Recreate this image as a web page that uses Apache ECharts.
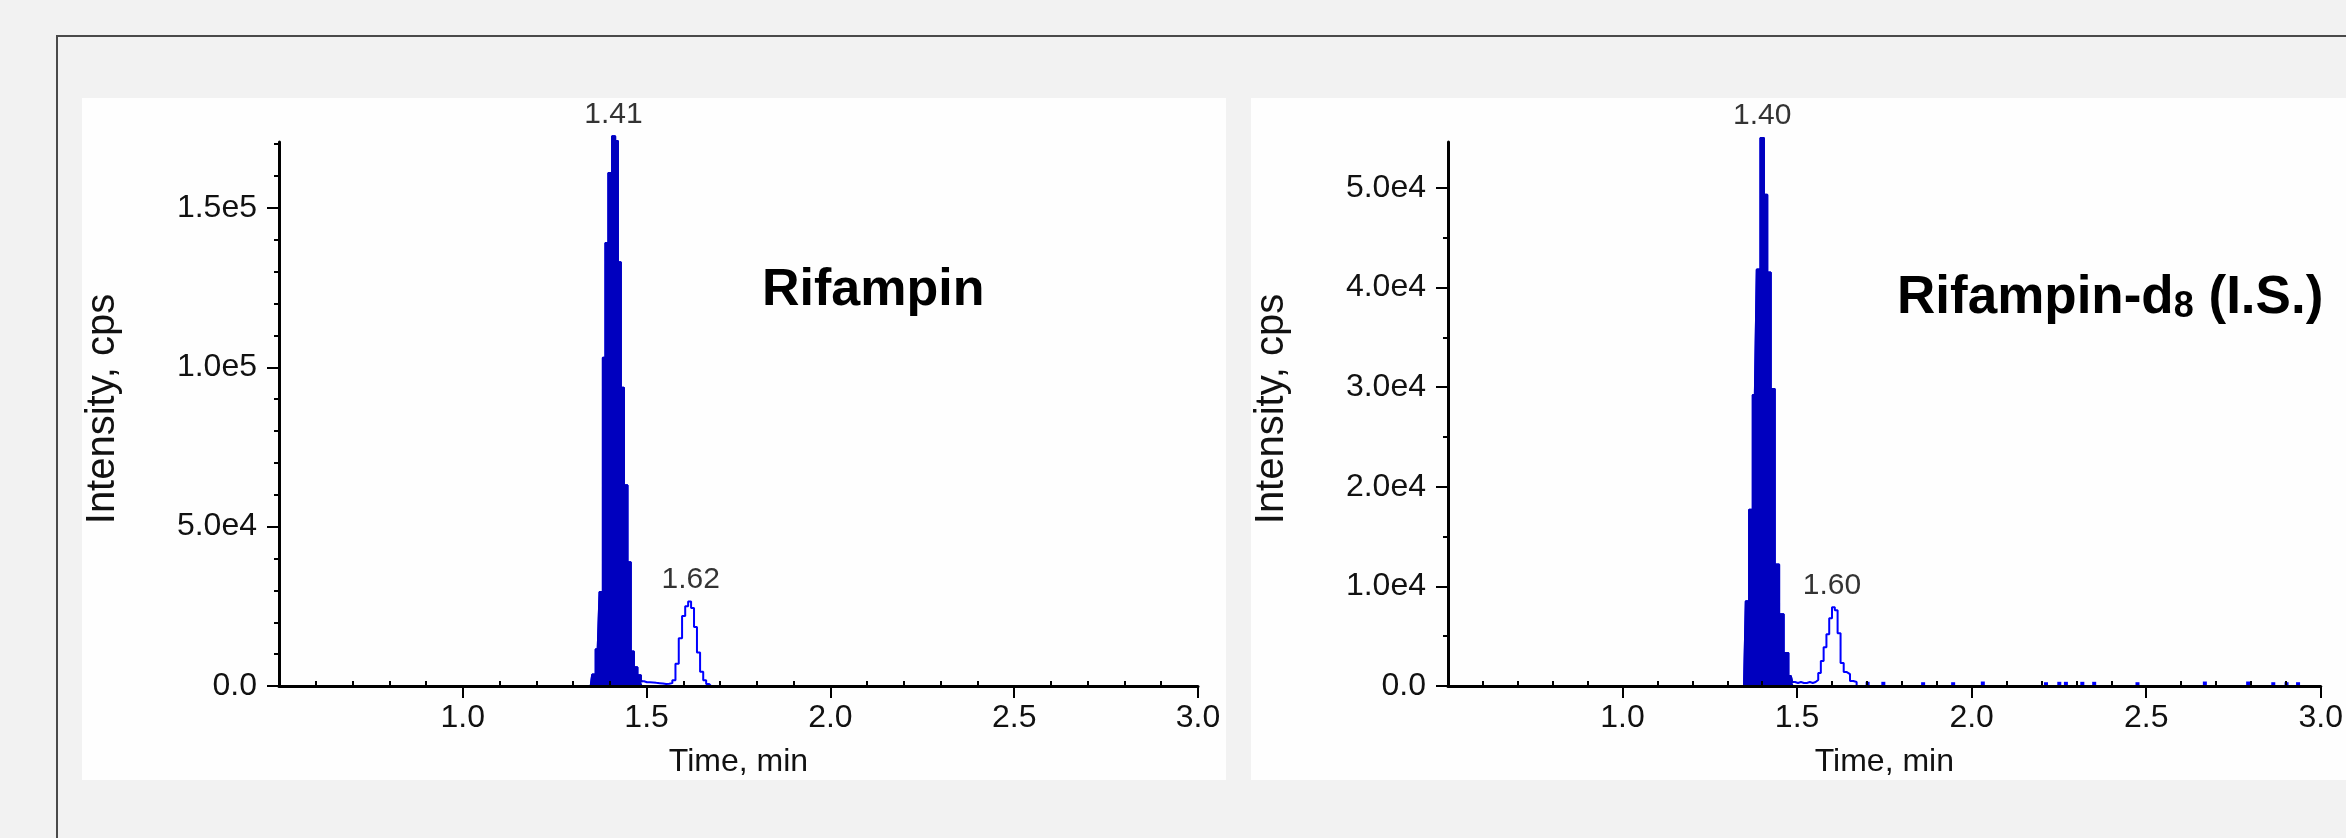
<!DOCTYPE html>
<html>
<head>
<meta charset="utf-8">
<script src="https://cdn.jsdelivr.net/npm/echarts@6/dist/echarts.min.js"></script>
<style>
  html, body { margin: 0; padding: 0; background: #f2f2f2; }
  #main { width: 2346px; height: 838px; }
</style>
</head>
<body>
<div id="main"></div>
<script>
// time axis ticks (min)
const xMajorTicks = [1.0, 1.5, 2.0, 2.5, 3.0];
const xMinorTicks = [0.6, 0.7, 0.8, 0.9, 1.1, 1.2, 1.3, 1.4, 1.6, 1.7, 1.8, 1.9,
  2.1, 2.2, 2.3, 2.4, 2.6, 2.7, 2.8, 2.9];

// Rifampin intensity axis
const leftYTicks = [0, 50000, 100000, 150000];
const leftYLabels = ['0.0', '5.0e4', '1.0e5', '1.5e5'];
const leftYMinor = [10000, 20000, 30000, 40000, 60000, 70000, 80000, 90000,
  110000, 120000, 130000, 140000, 160000, 170000];

// Rifampin-d8 intensity axis
const rightYTicks = [0, 10000, 20000, 30000, 40000, 50000];
const rightYLabels = ['0.0', '1.0e4', '2.0e4', '3.0e4', '4.0e4', '5.0e4'];
const rightYMinor = [5000, 15000, 25000, 35000, 45000];

// Rifampin trace [time, cps]; baseline outside this run is zero
const leftTrace = [
  [1.348, 0], [1.356, 3600], [1.367, 11500], [1.377, 29500],
  [1.385, 103000], [1.391, 139000], [1.401, 161000], [1.411, 172500],
  [1.418, 171000], [1.426, 133000], [1.434, 93600], [1.443, 63000],
  [1.453, 38800], [1.461, 10800], [1.470, 5900], [1.480, 3400], [1.489, 1500],
  [1.497, 1200], [1.505, 1200], [1.514, 1100], [1.522, 1000], [1.531, 900],
  [1.540, 800], [1.549, 600], [1.557, 700], [1.566, 900], [1.574, 1800],
  [1.583, 7000], [1.592, 15000], [1.601, 22000], [1.609, 25000],
  [1.617, 26500], [1.625, 24500], [1.633, 18500], [1.641, 10500],
  [1.650, 4500], [1.658, 1800], [1.666, 600], [1.675, 0]
];
const leftNoise = [];
const leftPeaks = [[1.41, 172500, '1.41'], [1.62, 26500, '1.62']];

// Rifampin-d8 trace [time, cps]
const rightTrace = [
  [1.348, 0], [1.358, 8500], [1.367, 17700], [1.379, 29200],
  [1.390, 41800], [1.400, 55000], [1.410, 49300], [1.419, 41500],
  [1.430, 29800], [1.442, 12200], [1.455, 7200], [1.468, 3300],
  [1.482, 1000], [1.490, 400], [1.498, 300], [1.507, 400], [1.515, 300],
  [1.524, 300], [1.532, 400], [1.541, 300], [1.549, 400], [1.557, 600],
  [1.564, 1300], [1.572, 2500], [1.580, 3900], [1.588, 5200], [1.596, 6800],
  [1.604, 7900], [1.612, 7600], [1.620, 5300], [1.629, 2300], [1.638, 1400],
  [1.647, 1200], [1.656, 500], [1.666, 400], [1.675, 0]
];
// isolated noise spikes on the baseline [time, cps]
const rightNoise = [
  [1.702, 420], [1.747, 420], [1.861, 380], [1.947, 380], [2.032, 450],
  [2.213, 380], [2.251, 420], [2.270, 420], [2.317, 420], [2.351, 420],
  [2.475, 380], [2.668, 450], [2.792, 450], [2.864, 380], [2.902, 380],
  [2.935, 380]
];
const rightPeaks = [[1.40, 55000, '1.40'], [1.60, 7900, '1.60']];

// integrated (filled) part of each main peak
const fillEnd = 1.49;

const FONT = 'Liberation Sans';
const lineBlue = '#0000ff';
const fillBlue = '#0000bf';

function axesFor(grid, yMax, yTicks, yLabels, yMinor) {
  const xMain = {
    type: 'value', gridIndex: grid, min: 0.5, max: 3.0, z: 5,
    name: 'Time, min', nameLocation: 'middle', nameGap: 60,
    nameTextStyle: { fontFamily: FONT, fontSize: 32, color: '#111' },
    axisLine: { onZero: false, lineStyle: { color: '#000', width: 3 } },
    axisTick: { customValues: xMajorTicks, length: 12, lineStyle: { color: '#000', width: 2 } },
    axisLabel: {
      customValues: xMajorTicks, margin: 16, fontFamily: FONT, fontSize: 32, color: '#111',
      formatter: v => v.toFixed(1)
    },
    splitLine: { show: false }
  };
  const xMinor = {
    type: 'value', gridIndex: grid, min: 0.5, max: 3.0, z: 5,
    axisLine: { show: false },
    axisTick: { customValues: xMinorTicks, length: 5, lineStyle: { color: '#000', width: 2 } },
    axisLabel: { show: false },
    splitLine: { show: false }
  };
  const yMain = {
    type: 'value', gridIndex: grid, position: 'left', min: 0, max: yMax, z: 5,
    name: 'Intensity, cps', nameLocation: 'middle', nameGap: 156,
    nameTextStyle: { fontFamily: FONT, fontSize: 40, color: '#111', padding: [0, 0, 0, 10] },
    axisLine: { show: true, onZero: false, lineStyle: { color: '#000', width: 3 } },
    axisTick: { show: true, customValues: yTicks, length: 12, lineStyle: { color: '#000', width: 2 } },
    axisLabel: {
      customValues: yTicks, margin: 22, fontFamily: FONT, fontSize: 32, color: '#111',
      formatter: v => yLabels[yTicks.indexOf(v)]
    },
    splitLine: { show: false }
  };
  const yMinorAxis = {
    type: 'value', gridIndex: grid, position: 'left', min: 0, max: yMax, z: 5,
    axisLine: { show: false },
    axisTick: { show: true, customValues: yMinor, length: 5, lineStyle: { color: '#000', width: 2 } },
    axisLabel: { show: false },
    splitLine: { show: false }
  };
  return { x: [xMain, xMinor], y: [yMain, yMinorAxis] };
}

function seriesFor(axisIdx, trace, noise, peaks) {
  return [
    {
      type: 'line', xAxisIndex: axisIdx, yAxisIndex: axisIdx, step: 'middle',
      showSymbol: false, clip: false, z: 3,
      data: trace,
      lineStyle: { color: lineBlue, width: 2 }
    },
    {
      // filled (integrated) main peak, drawn over the thin trace
      type: 'line', xAxisIndex: axisIdx, yAxisIndex: axisIdx, step: 'middle',
      showSymbol: false, clip: false, z: 4,
      data: trace.filter(p => p[0] <= fillEnd),
      lineStyle: { color: fillBlue, width: 2 },
      areaStyle: { color: fillBlue, opacity: 1 }
    },
    {
      // baseline spikes drawn as tiny bars sitting on the axis
      type: 'bar', xAxisIndex: axisIdx, yAxisIndex: axisIdx, barWidth: 4, z: 3,
      data: noise,
      itemStyle: { color: lineBlue }
    },
    {
      type: 'scatter', xAxisIndex: axisIdx, yAxisIndex: axisIdx, symbolSize: 0, clip: false, z: 6,
      data: peaks.map(p => ({ value: [p[0], p[1]], name: p[2] })),
      label: {
        show: true, position: 'top', distance: 7, formatter: '{b}',
        fontFamily: FONT, fontSize: 30, color: '#000'
      }
    }
  ];
}

const leftAxes = axesFor(0, 170700, leftYTicks, leftYLabels, leftYMinor);
const rightAxes = axesFor(1, 54600, rightYTicks, rightYLabels, rightYMinor);

const chart = echarts.init(document.getElementById('main'), null, { renderer: 'canvas' });
const option = {
  backgroundColor: '#f2f2f2',
  animation: false,
  grid: [
    { left: 279, top: 142, width: 919, height: 544 },
    { left: 1448, top: 142, width: 920, height: 544 }
  ],
  xAxis: [...leftAxes.x, ...rightAxes.x],
  yAxis: [...leftAxes.y, ...rightAxes.y],
  series: [
    ...seriesFor(0, leftTrace, leftNoise, leftPeaks),
    ...seriesFor(2, rightTrace, rightNoise, rightPeaks)
  ],
  graphic: [
    {
      type: 'rect', z: -10, silent: true,
      shape: { x: 57, y: 36, width: 2400, height: 900 },
      style: { fill: '#f2f2f2', stroke: '#4a4a4a', lineWidth: 2 }
    },
    {
      type: 'rect', z: -9, silent: true,
      shape: { x: 82, y: 98, width: 1144, height: 682 },
      style: { fill: '#fefefe' }
    },
    {
      type: 'rect', z: -9, silent: true,
      shape: { x: 1251, y: 98, width: 1200, height: 682 },
      style: { fill: '#fefefe' }
    },
    {
      type: 'text', z: 10, left: 762, top: 265,
      style: { text: 'Rifampin', fontFamily: FONT, fontWeight: 'bold', fontSize: 52, fill: '#000' }
    },
    {
      type: 'text', z: 10, left: 1897, top: 272,
      style: {
        text: '{m|Rifampin-d}{s|8}{m| (I.S.)}',
        rich: {
          m: { fontFamily: FONT, fontWeight: 'bold', fontSize: 53, lineHeight: 53, color: '#000' },
          s: { fontFamily: FONT, fontWeight: 'bold', fontSize: 36, lineHeight: 22, verticalAlign: 'bottom', color: '#000' }
        }
      }
    }
  ]
};
chart.setOption(option);
</script>
</body>
</html>
